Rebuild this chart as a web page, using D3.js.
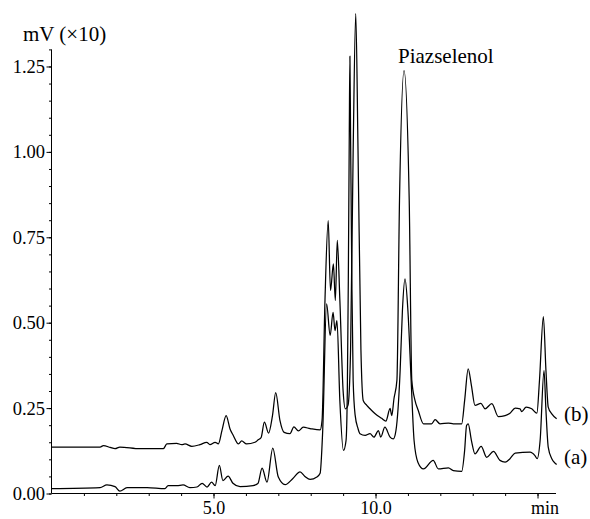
<!DOCTYPE html>
<html>
<head>
<meta charset="utf-8">
<script src="https://cdn.jsdelivr.net/npm/d3@7.9.0/dist/d3.min.js"></script>
<style>
  body { margin: 0; background: #fff; }
  svg { display: block; }
  .domain, .tick line { stroke: #000; stroke-width: 1; }
</style>
</head>
<body>
<svg width="590" height="519"></svg>
<script>
// chromatogram (a): [time in min, signal in mV x10]
const traceA = [
  [0.00, 0.014], [1.50, 0.017], [1.71, 0.025], [1.96, 0.020], [2.11, 0.007], [2.33, 0.017],
  [2.95, 0.017], [3.50, 0.014], [3.60, 0.023], [3.87, 0.023], [4.06, 0.025], [4.27, 0.017],
  [4.49, 0.019], [4.65, 0.030], [4.80, 0.019], [4.94, 0.033], [5.05, 0.023], [5.18, 0.082],
  [5.29, 0.038], [5.45, 0.051], [5.60, 0.030], [5.82, 0.020], [6.22, 0.023], [6.37, 0.029],
  [6.50, 0.074], [6.65, 0.033], [6.83, 0.133], [7.00, 0.048], [7.21, 0.026], [7.45, 0.044],
  [7.67, 0.063], [7.82, 0.050], [7.98, 0.041], [8.19, 0.048], [8.29, 0.059], [8.37, 0.184],
  [8.49, 0.555], [8.60, 0.463], [8.69, 0.530], [8.75, 0.477], [8.81, 0.506], [8.90, 0.270],
  [9.01, 0.126], [9.09, 0.155], [9.13, 0.300], [9.16, 0.620], [9.19, 1.050], [9.21, 1.280],
  [9.23, 1.050], [9.27, 0.620], [9.31, 0.330], [9.37, 0.230], [9.46, 0.190], [9.52, 0.175],
  [9.68, 0.170], [9.83, 0.175], [9.95, 0.165], [10.09, 0.184], [10.16, 0.165], [10.29, 0.194],
  [10.45, 0.165], [10.55, 0.160], [10.63, 0.184], [10.76, 0.360], [10.83, 0.535], [10.91, 0.628],
  [11.00, 0.535], [11.10, 0.330], [11.19, 0.155], [11.31, 0.091], [11.48, 0.072], [11.78, 0.097],
  [11.94, 0.072], [12.25, 0.075], [12.40, 0.067], [12.66, 0.065], [12.75, 0.126], [12.81, 0.199],
  [12.86, 0.204], [12.96, 0.155], [13.07, 0.116], [13.26, 0.138], [13.43, 0.106], [13.64, 0.123],
  [13.84, 0.097], [14.00, 0.092], [14.15, 0.102], [14.31, 0.118], [14.77, 0.121], [14.92, 0.111],
  [14.99, 0.102], [15.08, 0.155], [15.20, 0.360], [15.26, 0.243], [15.33, 0.136], [15.44, 0.102],
  [15.54, 0.089], [15.59, 0.085]
];

// chromatogram (b)
const traceB = [
  [0.00, 0.136], [1.50, 0.136], [1.60, 0.140], [1.81, 0.135], [1.96, 0.131], [2.11, 0.136],
  [2.73, 0.131], [3.45, 0.131], [3.56, 0.145], [3.86, 0.147], [4.02, 0.143], [4.12, 0.145],
  [4.33, 0.138], [4.58, 0.143], [4.79, 0.150], [4.89, 0.143], [5.05, 0.150], [5.15, 0.145],
  [5.26, 0.184], [5.39, 0.228], [5.51, 0.189], [5.61, 0.170], [5.77, 0.145], [5.87, 0.154],
  [6.02, 0.145], [6.28, 0.150], [6.38, 0.157], [6.47, 0.164], [6.57, 0.209], [6.70, 0.177],
  [6.82, 0.228], [6.92, 0.295], [7.05, 0.214], [7.18, 0.179], [7.36, 0.175], [7.48, 0.195],
  [7.62, 0.183], [7.77, 0.194], [7.98, 0.190], [8.29, 0.186], [8.35, 0.214], [8.44, 0.565],
  [8.54, 0.799], [8.61, 0.594], [8.70, 0.672], [8.76, 0.565], [8.82, 0.741], [8.90, 0.565],
  [9.00, 0.300], [9.07, 0.248], [9.15, 0.258], [9.23, 0.419], [9.31, 1.004], [9.39, 1.405],
  [9.46, 1.004], [9.55, 0.419], [9.62, 0.272], [9.73, 0.258], [9.83, 0.248], [9.98, 0.234],
  [10.19, 0.220], [10.32, 0.212], [10.45, 0.249], [10.50, 0.228], [10.57, 0.278], [10.66, 0.331],
  [10.74, 0.858], [10.88, 1.238], [11.04, 0.858], [11.12, 0.331], [11.22, 0.272], [11.32, 0.243],
  [11.48, 0.204], [11.73, 0.204], [11.84, 0.216], [11.99, 0.204], [12.25, 0.206], [12.40, 0.204],
  [12.66, 0.204], [12.75, 0.272], [12.86, 0.365], [12.96, 0.316], [13.07, 0.258], [13.25, 0.264],
  [13.38, 0.248], [13.59, 0.263], [13.79, 0.225], [14.00, 0.228], [14.15, 0.235], [14.31, 0.250],
  [14.46, 0.248], [14.51, 0.240], [14.65, 0.253], [14.82, 0.248], [14.98, 0.235], [15.06, 0.331],
  [15.18, 0.518], [15.26, 0.360], [15.33, 0.253], [15.44, 0.233], [15.59, 0.219]
];

const yMajorTicks = [0, 0.25, 0.5, 0.75, 1.0, 1.25];
const yMinorTicks = d3.range(0, 27).map(i => i * 0.05);
const xMajorTicks = [5, 10, 15];
const xMinorTicks = d3.range(1, 16);
const xTickLabels = { 5: '5.0', 10: '10.0', 15: 'min' };

const svg = d3.select('svg');

let x = d3.scaleLinear().domain([0, 15.57]).range([51.5, 556]);
let y = d3.scaleLinear().domain([0, 1.30]).range([493.5, 49.4]);

// serif text, like the original figure
function serifText(sel, size) {
  sel.style('font-family', '"Liberation Serif"')
    .style('font-size', `${size}px`)
    .attr('fill', '#000');
}

// y axis: minor ticks, then major ticks with labels
svg.append('g')
  .attr('transform', `translate(${x(0)},0)`)
  .call(d3.axisLeft(y).tickValues(yMinorTicks).tickSize(2.5).tickSizeOuter(0).tickFormat(''))
  .call(g => g.select('.domain').remove());

svg.append('g')
  .attr('transform', `translate(${x(0)},0)`)
  .call(d3.axisLeft(y).tickValues(yMajorTicks).tickSize(5).tickPadding(1.5).tickSizeOuter(0).tickFormat(d3.format('.2f')))
  .call(g => g.select('.domain').attr('d', `M0,${y(1.30)}V${y(0)}`))
  .call(g => serifText(g.selectAll('.tick text'), 18.5));

// x axis
svg.append('g')
  .attr('transform', `translate(0,${y(0)})`)
  .call(d3.axisBottom(x).tickValues(xMinorTicks).tickSize(2.5).tickSizeOuter(0).tickFormat(''))
  .call(g => g.select('.domain').remove());

svg.append('g')
  .attr('transform', `translate(0,${y(0)})`)
  .call(d3.axisBottom(x).tickValues(xMajorTicks).tickSize(5).tickPadding(2.5).tickSizeOuter(0).tickFormat(d => xTickLabels[d]))
  .call(g => g.select('.domain').attr('d', `M${x(0)},0H${x(15.57)}`))
  .call(g => serifText(g.selectAll('.tick text'), 18))
  .call(g => g.selectAll('.tick text').filter(d => d === 15).attr('dx', 7));

let line = d3.line()
  .x(d => x(d[0]))
  .y(d => y(d[1]))
  .curve(d3.curveMonotoneX);

[traceA, traceB].forEach(trace => {
  svg.append('path')
    .attr('d', line(trace))
    .attr('fill', 'none')
    .attr('stroke', '#000')
    .attr('stroke-width', 1.25)
    .attr('stroke-linejoin', 'round');
});

// labels
const labels = [
  { text: 'mV (×10)', x: 23, y: 41 },
  { text: 'Piazselenol', x: 398, y: 63 },
  { text: '(b)', x: 564, y: 421 },
  { text: '(a)', x: 564, y: 464 }
];

labels.forEach(d => {
  svg.append('text')
    .attr('x', d.x).attr('y', d.y)
    .call(serifText, 21)
    .text(d.text);
});
</script>
</body>
</html>
